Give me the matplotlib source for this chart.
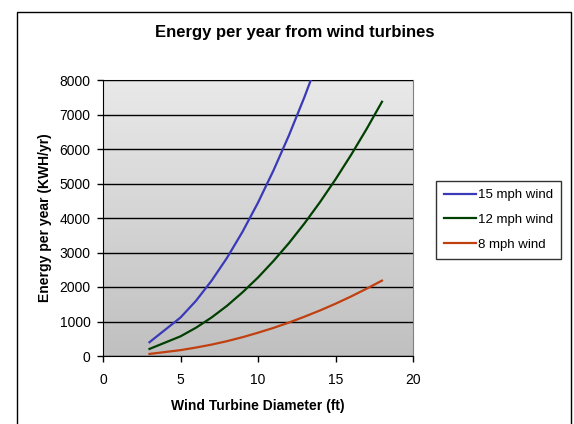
import matplotlib
matplotlib.use("Agg")
import matplotlib.pyplot as plt
import numpy as np
from matplotlib.patches import Rectangle

plt.rcParams["font.family"] = ["Liberation Sans", "DejaVu Sans"]

# Diameter (ft) and energy per year (KWH/yr)
diameter = [3, 5, 6, 7, 8, 9, 10, 11, 12, 13, 14, 15, 16, 17, 18]
wind_15 = [400, 1115, 1600, 2180, 2845, 3600, 4445, 5380, 6400, 7510, 8710]
wind_12 = [205, 570, 820, 1115, 1455, 1845, 2275, 2755, 3275, 3845, 4460, 5120, 5825, 6575, 7370]
wind_8 = [60, 170, 245, 330, 430, 545, 675, 815, 970, 1140, 1320, 1515, 1725, 1950, 2185]

series = [
    ("15 mph wind", wind_15, "#3a3ab8"),
    ("12 mph wind", wind_12, "#004000"),
    ("8 mph wind", wind_8, "#c04010"),
]

W, H = 574, 424
fig = plt.figure(figsize=(W / 100, H / 100), dpi=100)
fig.patch.set_facecolor("white")

# outer chart border (bottom edge runs off the image)
fig.add_artist(Rectangle((17 / W, -0.05), (571 - 17) / W, 1.05 - 12 / H,
                         transform=fig.transFigure, fill=False,
                         edgecolor="black", linewidth=1.0))

ax = fig.add_axes([103 / W, 1 - 356 / H, (413 - 103) / W, (356 - 80) / H])

# grey gradient plot background
grad = np.linspace(0, 1, 256).reshape(-1, 1)
ax.imshow(grad, extent=[0, 1, 0, 1], transform=ax.transAxes, aspect="auto",
          cmap=matplotlib.colors.LinearSegmentedColormap.from_list(
              "bg", ["#e9e9e9", "#c0c0c0"]), zorder=0)

for label, values, color in series:
    ax.plot(diameter[:len(values)], values, color=color, linewidth=1.6,
            label=label, zorder=3, clip_on=True)

ax.set_xlim(0, 20)
ax.set_ylim(0, 8000)
ax.set_xticks(range(0, 21, 5))
ax.set_yticks(range(0, 8001, 1000))
ax.yaxis.grid(True, color="black", linewidth=1.0, zorder=1)
ax.set_axisbelow(False)

for side in ["top", "right"]:
    ax.spines[side].set_color("#808080")
for side in ["left", "bottom"]:
    ax.spines[side].set_color("black")
ax.tick_params(direction="out", length=4, width=1, labelsize=10,
               colors="black", pad=5)
ax.tick_params(axis="x", pad=8)

# title is centred on the whole chart, not the plot area
fig.text(295 / W, 1 - 33 / H, "Energy per year from wind turbines",
         fontsize=12, fontweight="bold", ha="center", va="center")
ax.set_xlabel("Wind Turbine Diameter (ft)", fontsize=10, fontweight="bold",
              labelpad=9)
ax.set_ylabel("Energy per year (KWH/yr)", fontsize=10, fontweight="bold",
              labelpad=5)

leg = ax.legend(loc="upper left", bbox_to_anchor=(436 / W, 1 - 181 / H),
                bbox_transform=fig.transFigure, fontsize=9.5, frameon=True,
                fancybox=False, edgecolor="black", handlelength=2.4,
                handletextpad=0.2, borderpad=0.6, labelspacing=0.95,
                borderaxespad=0)
leg.get_frame().set_linewidth(1.0)

fig.savefig("out.png", dpi=100)
